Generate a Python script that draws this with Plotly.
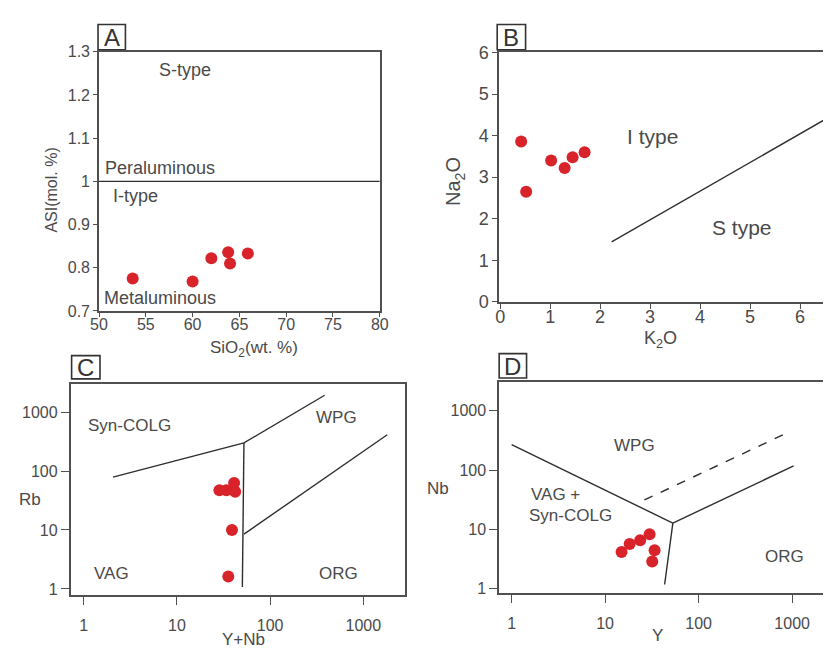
import numpy as np
import plotly.graph_objects as go

# ---------------- data ----------------
# Panel A: SiO2 vs ASI
a_sio2 = [53.6, 60.0, 62.0, 63.8, 64.0, 65.9]
a_asi = [0.775, 0.768, 0.822, 0.836, 0.810, 0.833]
a_div_x = [50, 80]
a_div_y = [1.0, 1.0]

# Panel B: K2O vs Na2O
b_k2o = [0.42, 0.52, 1.02, 1.29, 1.45, 1.69]
b_na2o = [3.86, 2.65, 3.40, 3.22, 3.48, 3.60]
b_div_x = [2.23, 6.5]
b_div_y = [1.44, 4.39]

# Panel C: Y+Nb vs Rb
c_ynb = [28.6, 33.9, 41.1, 42.2, 39.0, 35.6]
c_rb = [47, 47, 62.7, 44.6, 10.0, 1.62]
c_l1_x = [2.06, 52.4, 385]
c_l1_y = [78.7, 300, 1928]
c_l2_x = [52.4, 50.4]
c_l2_y = [300, 1.08]
c_l3_x = [52.4, 1807]
c_l3_y = [8.5, 413]

# Panel D: Y vs Nb
d_y = [15.0, 18.3, 23.7, 29.9, 33.8, 31.9]
d_nb = [4.17, 5.7, 6.6, 8.3, 4.45, 2.88]
d_l1_x = [1, 53]
d_l1_y = [269, 12.8]
d_l2_x = [53, 43.3]
d_l2_y = [12.8, 1.18]
d_l3_x = [53, 1037]
d_l3_y = [12.8, 118]
d_dash_x = [26.3, 889]
d_dash_y = [31.4, 428]

log_ticks = [1, 10, 100, 1000]
log_ticktext = ["1", "10", "100", "1000"]

# ---------------- style ----------------
W, H = 832, 653
FONT = "Liberation Sans, Arial, sans-serif"
TXT = "#4a4a4a"
FRAME = "#505050"
LINE = "#2e2e2e"
RED = "#d8232a"


def px(x):
    return x / W


def py(y):
    return 1 - y / H


fig = go.Figure()

marker = dict(color=RED, size=12, line=dict(width=0))
line_style = dict(color=LINE, width=1.4)

# A
fig.add_trace(go.Scatter(x=a_div_x, y=a_div_y, mode="lines", line=line_style,
                         xaxis="x", yaxis="y", showlegend=False))
fig.add_trace(go.Scatter(x=a_sio2, y=a_asi, mode="markers", marker=marker,
                         xaxis="x", yaxis="y", showlegend=False))
# B
fig.add_trace(go.Scatter(x=b_div_x, y=b_div_y, mode="lines", line=line_style,
                         xaxis="x2", yaxis="y2", showlegend=False))
fig.add_trace(go.Scatter(x=b_k2o, y=b_na2o, mode="markers", marker=marker,
                         xaxis="x2", yaxis="y2", showlegend=False))
# C
for lx, ly in [(c_l1_x, c_l1_y), (c_l2_x, c_l2_y), (c_l3_x, c_l3_y)]:
    fig.add_trace(go.Scatter(x=lx, y=ly, mode="lines", line=line_style,
                             xaxis="x3", yaxis="y3", showlegend=False))
fig.add_trace(go.Scatter(x=c_ynb, y=c_rb, mode="markers", marker=marker,
                         xaxis="x3", yaxis="y3", showlegend=False))
# D
for lx, ly in [(d_l1_x, d_l1_y), (d_l2_x, d_l2_y), (d_l3_x, d_l3_y)]:
    fig.add_trace(go.Scatter(x=lx, y=ly, mode="lines", line=line_style,
                             xaxis="x4", yaxis="y4", showlegend=False))
fig.add_trace(go.Scatter(x=d_dash_x, y=d_dash_y, mode="lines",
                         line=dict(color=LINE, width=1.4, dash="dash"),
                         xaxis="x4", yaxis="y4", showlegend=False))
fig.add_trace(go.Scatter(x=d_y, y=d_nb, mode="markers", marker=marker,
                         xaxis="x4", yaxis="y4", showlegend=False))


def axis(domain, rng, anchor, tickvals, ticktext, size, ticklen, mirror=True,
         typ="linear", standoff=0):
    return dict(domain=domain, range=rng, anchor=anchor, type=typ,
                tickvals=tickvals, ticktext=ticktext,
                showgrid=False, zeroline=False,
                showline=True, linecolor=FRAME, linewidth=1.6, mirror=mirror,
                ticks="outside", ticklen=ticklen, tickwidth=1.3, tickcolor=FRAME,
                ticklabelstandoff=standoff,
                tickfont=dict(family=FONT, size=size, color=TXT))


a_xt = [50, 55, 60, 65, 70, 75, 80]
a_yt = [0.7, 0.8, 0.9, 1.0, 1.1, 1.2, 1.3]
a_ytt = ["0.7", "0.8", "0.9", "1", "1.1", "1.2", "1.3"]
b_t = [0, 1, 2, 3, 4, 5, 6]

fig.update_layout(
    width=W, height=H, margin=dict(l=0, r=0, t=0, b=0),
    paper_bgcolor="white", plot_bgcolor="white",
    xaxis=axis([px(92), px(379)], [50, 80], "y", a_xt, [str(v) for v in a_xt], 16, 4, standoff=-6),
    yaxis=axis([py(311), py(44)], [0.7, 1.3], "x", a_yt, a_ytt, 16, 4),
    xaxis2=axis([px(501), 1.0], [-0.02, 6.46], "y2", b_t, [str(v) for v in b_t], 18, 5, standoff=-8),
    yaxis2=axis([py(302), py(44)], [-0.01, 6.02], "x2", b_t, [str(v) for v in b_t], 18, 5, mirror=False),
    xaxis3=axis([px(63), px(405)], [-0.14, 3.45], "y3", log_ticks, log_ticktext, 16, 8, typ="log", standoff=7),
    yaxis3=axis([py(604), py(386)], [-0.11, 3.48], "x3", log_ticks, log_ticktext, 16, 8, typ="log"),
    xaxis4=axis([px(501), 1.0], [-0.133, 3.33], "y4", log_ticks, log_ticktext, 16, 8, typ="log", standoff=7),
    yaxis4=axis([py(602), py(384)], [-0.08, 3.49], "x4", log_ticks, log_ticktext, 16, 8, mirror=False, typ="log"),
)

ann = []


def txt(x, y, s, size, xref="paper", yref="paper", angle=0, color=TXT):
    ann.append(dict(x=x, y=y, xref=xref, yref=yref, text=s, showarrow=False,
                    xanchor="center", yanchor="middle",
                    textangle=angle, font=dict(family=FONT, size=size, color=color)))


L = np.log10
# A annotations
txt(59.2, 1.257, "S-type", 18, "x", "y")
txt(56.5, 1.032, "Peraluminous", 18, "x", "y")
txt(53.9, 0.966, "I-type", 18, "x", "y")
txt(56.5, 0.730, "Metaluminous", 18, "x", "y")
# B annotations
txt(3.05, 3.97, "I type", 21, "x2", "y2")
txt(4.83, 1.79, "S type", 21, "x2", "y2")
# C annotations
txt(L(3.13), L(603), "Syn-COLG", 17, "x3", "y3")
txt(L(519), L(805), "WPG", 17, "x3", "y3")
txt(L(2.01), L(1.86), "VAG", 17, "x3", "y3")
txt(L(540), L(1.86), "ORG", 17, "x3", "y3")
# D annotations
txt(L(20.7), L(259), "WPG", 17, "x4", "y4")
txt(L(2.95), L(39), "VAG +", 17, "x4", "y4")
txt(L(4.3), L(17.1), "Syn-COLG", 17, "x4", "y4")
txt(L(834), L(3.55), "ORG", 17, "x4", "y4")

# axis titles
txt(px(44), py(187), "ASI(mol. %)", 16, angle=-90)
txt(px(250), py(350), "SiO<sub>2</sub>(wt. %)", 17)
txt(px(456), py(178), "Na<sub>2</sub>O", 20, angle=-90)
txt(px(666), py(340), "K<sub>2</sub>O", 18)
txt(px(21), py(505), "Rb", 17)
txt(px(240), py(649), "Y+Nb", 17)
txt(px(438), py(494), "Nb", 17)
txt(px(663), py(645), "Y", 17)

# panel labels: boxes as shapes, letters as centred text
shapes = []
for lab, x0, y0, x1, y1 in [("A", 91, 16, 119, 42), ("B", 499, 16, 528, 42),
                            ("C", 64, 357, 93, 381), ("D", 501, 355, 529, 380)]:
    shapes.append(dict(type="rect", xref="paper", yref="paper",
                       x0=px(x0), x1=px(x1), y0=py(y1), y1=py(y0),
                       line=dict(color="#333", width=1.6), fillcolor="white", layer="below"))
    txt(px((x0 + x1) / 2), py((y0 + y1) / 2 + 0.5), lab, 24, color="#333")

fig.update_layout(annotations=ann, shapes=shapes)
fig.write_html("out.html")
